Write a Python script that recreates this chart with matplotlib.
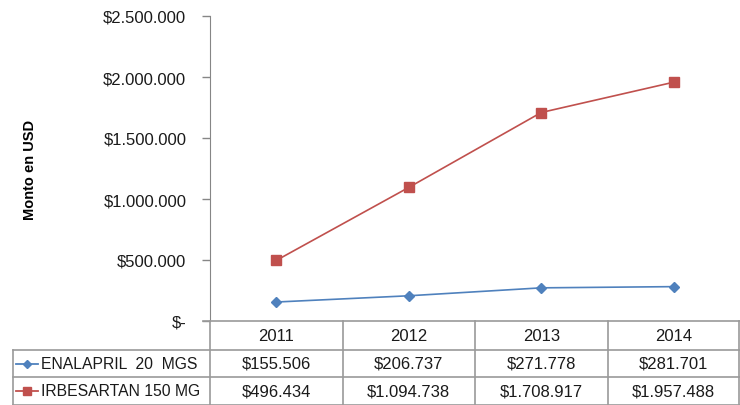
import matplotlib
matplotlib.use("Agg")
import matplotlib.pyplot as plt
import numpy as np

years = ["2011", "2012", "2013", "2014"]
enalapril = [155506, 206737, 271778, 281701]
irbesartan = [496434, 1094738, 1708917, 1957488]
series_names = ["ENALAPRIL  20  MGS", "IRBESARTAN 150 MG"]
yticks = [0, 500000, 1000000, 1500000, 2000000, 2500000]
ylabel = "Monto en USD"

plt.rcParams['font.family'] = ['Liberation Sans', 'DejaVu Sans']

W, H = 740, 406
fig = plt.figure(figsize=(W / 100, H / 100), dpi=100)

def px_axes(x0, x1, ytop, ybot):
    return [x0 / W, (H - ybot) / H, (x1 - x0) / W, (ybot - ytop) / H]

gray = "#868686"
blue = "#4F81BD"
red = "#C0504D"
txt = "#1a1a1a"
fs = 12

def money(v):
    if v == 0:
        return "$-"
    return "$" + f"{v:,.0f}".replace(",", ".")

ax = fig.add_axes(px_axes(210, 740, 17, 322))
x = np.arange(len(years))
ax.plot(x, enalapril, color=blue, lw=1.2, marker="D", ms=5.5, mfc=blue, mec=blue)
ax.plot(x, irbesartan, color=red, lw=1.2, marker="s", ms=6.5, mfc=red, mec=red)
ax.set_xlim(-0.5, len(years) - 0.5)
ax.set_ylim(0, 2500000)
ax.set_yticks(yticks)
ax.set_yticklabels([money(v) for v in yticks], fontsize=fs, color=txt)
ax.set_xticks([])
for s in ["top", "right"]:
    ax.spines[s].set_visible(False)
ax.spines["left"].set_color(gray)
ax.spines["bottom"].set_visible(False)
ax.tick_params(axis="y", direction="out", length=6, width=1, color=gray, pad=11)
ax.set_ylabel(ylabel, fontsize=10.5, fontweight="bold")
ax.yaxis.set_label_coords(-0.326, 0.5)

# data table
tab = fig.add_axes(px_axes(210, 740, 322, 406))
tab.set_xlim(-0.5, len(years) - 0.5)
tab.set_ylim(0, 84)
tab.axis("off")
ppu = 530 / len(years)
def xpx(p):
    return -0.5 + (p - 210) / ppu

lc = "#9a9a9a"
# horizontal lines
tab.plot([xpx(203), xpx(740)], [84, 84], color=lc, lw=1.2, clip_on=False)
tab.plot([xpx(13), xpx(740)], [55, 55], color=lc, lw=1.2, clip_on=False)
tab.plot([xpx(13), xpx(740)], [28, 28], color=lc, lw=1.2, clip_on=False)
tab.plot([xpx(13), xpx(740)], [0.5, 0.5], color=lc, lw=1.2, clip_on=False)
# vertical lines
for i in range(len(years) + 1):
    xv = i - 0.5
    if i == len(years):
        xv = xpx(739)
    tab.plot([xv, xv], [0, 84], color=lc, lw=1.2, clip_on=False)
tab.plot([xpx(13), xpx(13)], [0, 55], color=lc, lw=1.2, clip_on=False)

for i, yr in enumerate(years):
    tab.text(i, (84 + 55) / 2, yr, ha="center", va="center", fontsize=fs, color=txt)
    tab.text(i, (55 + 28) / 2, money(enalapril[i]), ha="center", va="center", fontsize=fs, color=txt)
    tab.text(i, 28 / 2, money(irbesartan[i]), ha="center", va="center", fontsize=fs, color=txt)

for (name, col, mk, ms), yc in zip([(series_names[0], blue, "D", 4.5), (series_names[1], red, "s", 6)],
                                   [(55 + 28) / 2, 28 / 2]):
    tab.plot([xpx(16), xpx(38)], [yc, yc], color=col, lw=1.3, clip_on=False)
    tab.plot([xpx(27)], [yc], color=col, marker=mk, ms=ms, clip_on=False)
    tab.text(xpx(41), yc, name, ha="left", va="center", fontsize=11.3, color=txt)

fig.savefig("out.png", dpi=100)
